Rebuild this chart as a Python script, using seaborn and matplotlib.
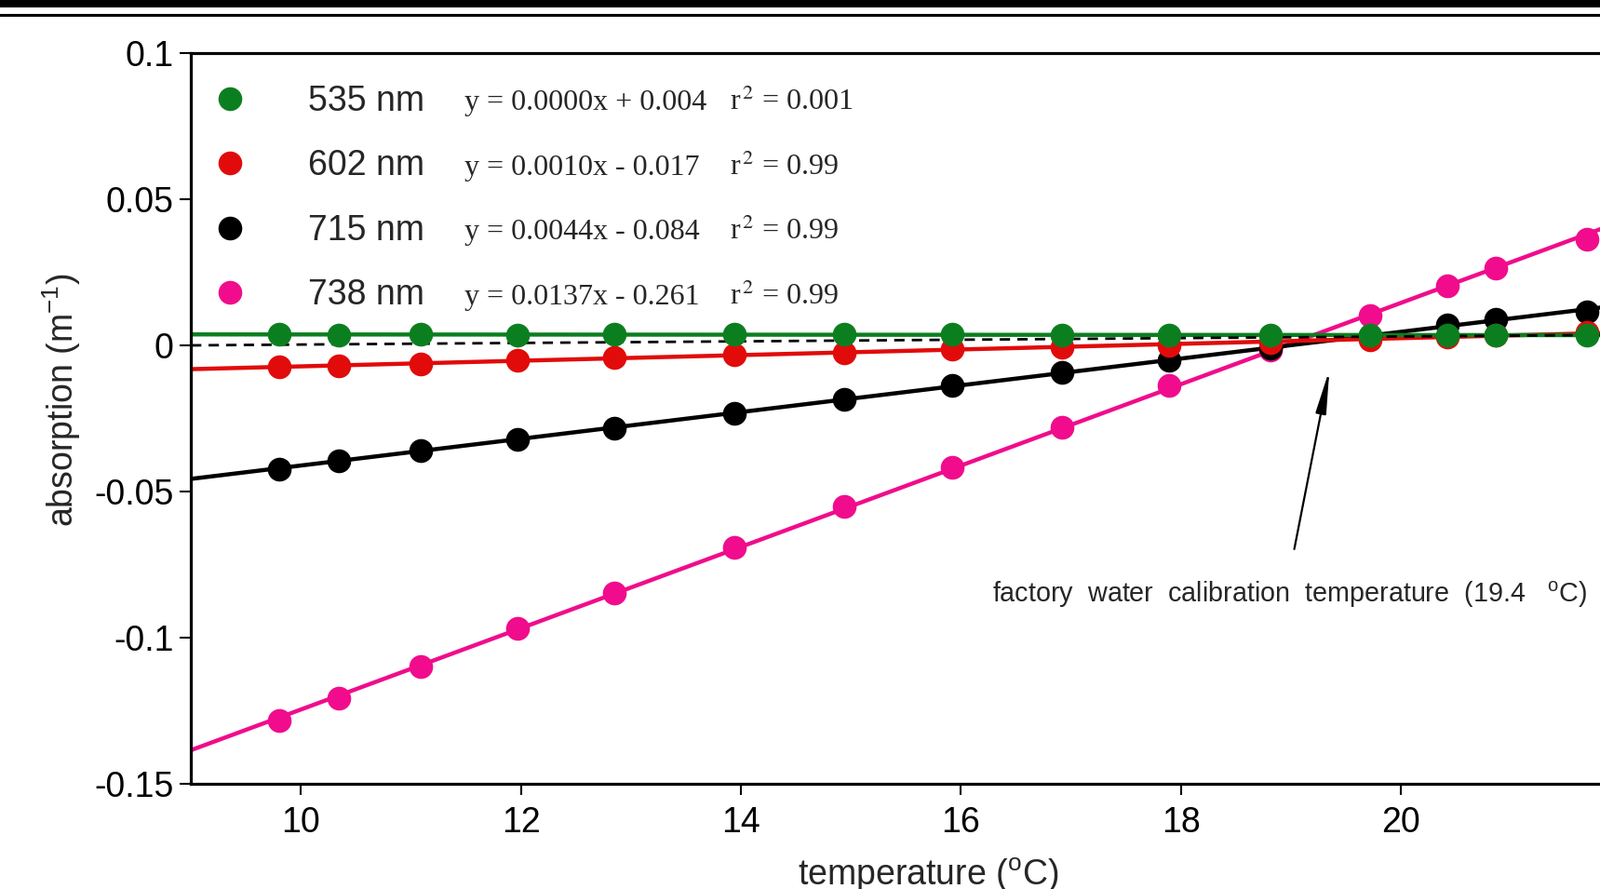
import numpy as np
import pandas as pd
import seaborn as sns
import matplotlib.pyplot as plt
from matplotlib.lines import Line2D
from matplotlib.patches import Rectangle

# temperature (oC) of each measurement
temperature = [9.80, 10.34, 11.09, 11.97, 12.85, 13.94, 14.94, 15.92,
               16.92, 17.89, 18.81, 19.72, 20.42, 20.86, 21.69]

# absorption (m-1)
a_535 = [0.0037, 0.0036, 0.0037, 0.0036, 0.0038, 0.0037, 0.0037, 0.0038,
         0.0036, 0.0036, 0.0034, 0.0035, 0.0035, 0.0035, 0.0035]
a_602 = [-0.0073, -0.0070, -0.0063, -0.0052, -0.0042, -0.0031, -0.0024, -0.0014,
         -0.0006, 0.0001, 0.0009, 0.0020, 0.0030, 0.0034, 0.0044]
a_715 = [-0.0423, -0.0395, -0.0360, -0.0322, -0.0283, -0.0231, -0.0185, -0.0136,
         -0.0091, -0.0050, -0.0008, 0.0032, 0.0070, 0.0088, 0.0115]
a_738 = [-0.1283, -0.1206, -0.1098, -0.0969, -0.0846, -0.0692, -0.0552, -0.0416,
         -0.0280, -0.0138, -0.0015, 0.0103, 0.0204, 0.0264, 0.0363]

wavelengths = ['535 nm', '602 nm', '715 nm', '738 nm']
equations = ['y = 0.0000x + 0.004', 'y = 0.0010x - 0.017',
             'y = 0.0044x - 0.084', 'y = 0.0137x - 0.261']
r2_values = ['0.001', '0.99', '0.99', '0.99']
colors = ['#0b7f1f', '#e10b0b', '#000000', '#f00c8c']

# dashed reference line
ref_x = [9.0, 22.4]
ref_y = [0.0, 0.0037]

arrow_tip = (19.35, -0.0083)
arrow_tail = (19.03, -0.0697)
note_pos = (16.28, -0.0853)

xticks = [10, 12, 14, 16, 18, 20]
yticks = [0.1, 0.05, 0, -0.05, -0.1, -0.15]
ytick_labels = ['0.1', '0.05', '0', '-0.05', '-0.1', '-0.15']

sns.set_style('ticks')
plt.rcParams['font.family'] = ['Liberation Sans', 'DejaVu Sans']
plt.rcParams['mathtext.fontset'] = 'custom'
plt.rcParams['mathtext.rm'] = 'Liberation Sans'
plt.rcParams['mathtext.it'] = 'Liberation Sans:italic'
plt.rcParams['mathtext.bf'] = 'Liberation Sans:bold'

fig = plt.figure(figsize=(17.19, 9.55), dpi=100)
ax = fig.add_axes([205.2 / 1719, 1 - 842 / 955, 1583.6 / 1719, 785 / 955])
ax.set_xlim(9, 22.4)
ax.set_ylim(-0.15, 0.1)

series = [a_535, a_602, a_715, a_738]
# draw pink first so the green points end up on top
for i in [3, 2, 1, 0]:
    sns.regplot(x=temperature, y=series[i], ax=ax, ci=None, truncate=False,
                color=colors[i],
                scatter_kws=dict(s=340, linewidths=0, alpha=1, zorder=6 - i),
                line_kws=dict(linewidth=3.2, zorder=2))

ax.plot(ref_x, ref_y, color='black', linewidth=2.0, linestyle=(0, (4, 2.8)), zorder=2.5)

ax.set_xlim(9, 22.4)
ax.set_ylim(-0.15, 0.1)

# legend
handles = [Line2D([], [], ls='', marker='o', ms=18.4, mew=0, color=c) for c in colors]
ax.legend(handles, wavelengths, loc='upper left', bbox_to_anchor=(0.0145, 0.957),
          frameon=False, fontsize=27, handlelength=1.0, handletextpad=1.75,
          labelspacing=0.895, borderpad=0, borderaxespad=0)

row_y = [(842 - b) / 785 for b in [118, 188, 257, 327]]
for eq, r2, y in zip(equations, r2_values, row_y):
    ax.text(0.1857, y, eq, transform=ax.transAxes, family='Liberation Serif',
            fontsize=23, va='baseline')
    ax.text(0.3652, y, 'r$^{\\,2}$ = ' + r2, transform=ax.transAxes,
            family='Liberation Serif', math_fontfamily='stix', fontsize=23,
            va='baseline')

# calibration arrow and note
ax.annotate('', xy=arrow_tip, xytext=arrow_tail,
            arrowprops=dict(arrowstyle='-|>,head_length=1.4,head_width=0.17',
                            mutation_scale=20, lw=1.6, color='black',
                            shrinkA=0, shrinkB=0))
ax.text(note_pos[0], note_pos[1],
        'factory  water  calibration  temperature  (19.4   $^{\\mathrm{o}}$C)',
        fontsize=20.7, va='center', ha='left')

ax.set_xticks(xticks)
ax.set_yticks(yticks)
ax.set_yticklabels(ytick_labels)
ax.tick_params(axis='both', direction='out', length=8.5, width=1.5,
               labelsize=27, colors='black')
ax.tick_params(axis='x', pad=8.5)
ax.tick_params(axis='y', pad=5)

ax.spines['right'].set_visible(False)
for s in ['left', 'bottom', 'top']:
    ax.spines[s].set_linewidth(2.3)
    ax.spines[s].set_color('black')

ax.set_ylabel('absorption (m$^{-1}$)', fontsize=27, va='center')
ax.yaxis.set_label_coords(-0.0879, 0.525)
ax.set_xlabel('temperature ($^{\\mathrm{o}}$C)', fontsize=27, va='center')
ax.xaxis.set_label_coords(0.5, -0.1255)

# page rules at the top
fig.add_artist(Rectangle((0, 1 - 8 / 955), 1, 8 / 955, transform=fig.transFigure,
                         color='black', lw=0))
fig.add_artist(Line2D([0, 1], [1 - 16.5 / 955] * 2, transform=fig.transFigure,
                      color='black', lw=2.2))

fig.savefig('out.png', dpi=100)
